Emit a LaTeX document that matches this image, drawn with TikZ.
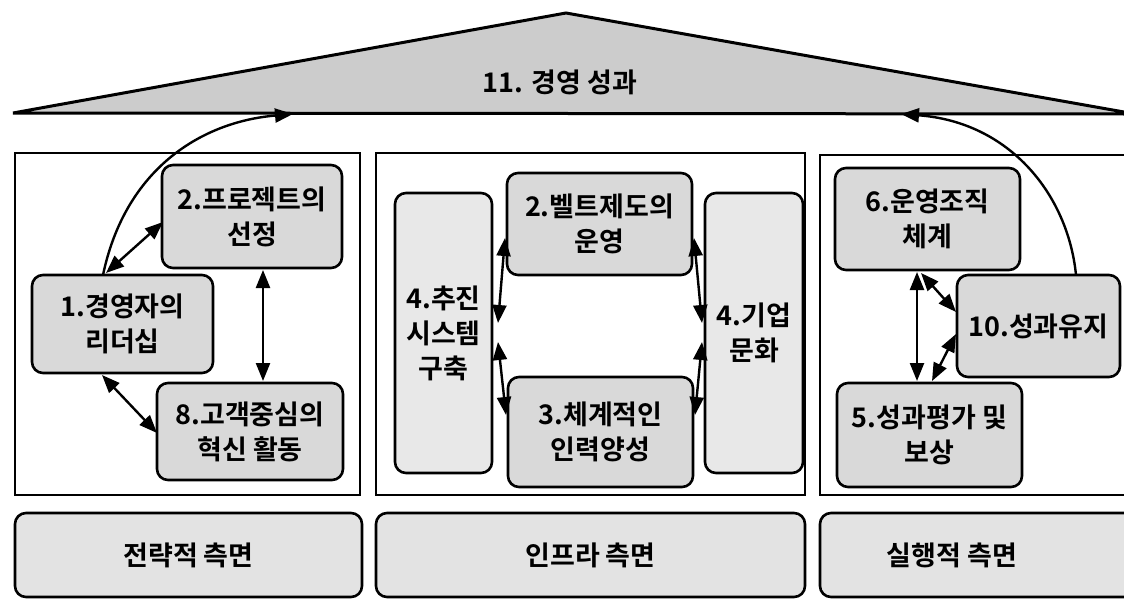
\documentclass[tikz,border=0pt]{standalone}
\usepackage{fontspec}
\setmainfont{Noto Sans CJK KR}[BoldFont={Noto Sans CJK KR Bold}]
\usetikzlibrary{arrows.meta}
\tikzset{
  every node/.style={font=\fontsize{27}{35}\selectfont\bfseries},
  box/.style={draw, line width=2.6pt, rounded corners=11pt, fill=gray!30, align=center, inner sep=0pt},
  tallbox/.style={box, fill=gray!18},
  panel/.style={draw, line width=1.8pt, fill=white, inner sep=0pt},
  basebox/.style={draw, line width=2.6pt, rounded corners=11pt, fill=gray!22, inner sep=0pt},
  tipend/.tip={Triangle[length=18pt,width=14pt]},
  link/.style={line width=2.4pt, tipend-tipend},
  curve/.style={line width=2.4pt, -tipend}
}
\begin{document}
\begin{tikzpicture}[x=1pt,y=-1pt]
\useasboundingbox (0,0) rectangle (1124,602);
\fill[white] (0,0) rectangle (1124,602);
% roof
\draw[line width=3pt, fill=gray!40, line join=miter] (13,113) -- (566,13) -- (1124,112) -- (1124,114) -- cycle;
\node (roof) at (560,82) {11. 경영 성과};
% panels
\node[panel, minimum width=345pt, minimum height=342pt] (pl) at (187.5,324) {};
\node[panel, minimum width=429pt, minimum height=342pt] (pm) at (590.5,324) {};
\coordinate (prtl) at (820,155);
\coordinate (prbl) at (820,495);
\draw[line width=1.8pt] (1126,155) -- (prtl) -- (prbl) -- (1126,495);
% left panel nodes
\node[box, minimum width=180pt, minimum height=103pt] (n2) at (252,216.5) {2.프로젝트의\\선정};
\node[box, minimum width=181pt, minimum height=98pt] (n1) at (122.5,324) {1.경영자의\\리더십};
\node[box, minimum width=186pt, minimum height=97pt] (n8) at (250,431.5) {8.고객중심의\\혁신 활동};
% middle panel nodes
\node[tallbox, minimum width=97pt, minimum height=280pt] (m4) at (443.5,333) {4.추진\\시스템\\구축};
\node[box, minimum width=185pt, minimum height=102pt] (m2) at (599.5,224) {2.벨트제도의\\운영};
\node[box, minimum width=185pt, minimum height=110pt] (m3) at (600.5,432) {3.체계적인\\인력양성};
\node[tallbox, minimum width=98pt, minimum height=280pt] (m5) at (754,333) {4.기업\\문화};
% right panel nodes
\node[box, minimum width=185pt, minimum height=102pt] (r6) at (927.5,219) {6.운영조직\\체계};
\node[box, minimum width=163pt, minimum height=102pt] (r10) at (1038.5,326) {10.성과유지};
\node[box, minimum width=185pt, minimum height=104pt] (r5) at (929.5,435) {5.성과평가 및\\보상};
% bottom boxes
\node[basebox, minimum width=347pt, minimum height=84pt] (b1) at (188.5,555) {전략적 측면};
\node[basebox, minimum width=429pt, minimum height=84pt] (b2) at (590.5,555) {인프라 측면};
\filldraw[line width=2.6pt, rounded corners=11pt, fill=gray!22] (1140,513) -- (820,513) -- (820,597) -- (1140,597);
\node (b3) at (952,555) {실행적 측면};
% roof arrow end points
\coordinate (rl) at (293,114);
\coordinate (rr) at (901,114);
% left panel connectors
\coordinate (a1t) at (103,275);
\draw[curve] (a1t) .. controls (125,170) and (200,122) .. (rl);
\coordinate (a1a) at (106,273);
\coordinate (a2a) at (163,222);
\draw[link] (a1a) -- (a2a);
\coordinate (a2b) at (263,270);
\coordinate (a8a) at (263,381);
\draw[link] (a2b) -- (a8a);
\coordinate (a1b) at (102,375);
\coordinate (a8b) at (157,433);
\draw[link] (a1b) -- (a8b);
% middle connectors
\coordinate (ml1) at (505,238); \coordinate (ml2) at (498,323);
\coordinate (ml3) at (498,342); \coordinate (ml4) at (506,415);
\draw[link] (ml1) -- (ml2);
\draw[link] (ml3) -- (ml4);
\coordinate (mr1) at (694,238); \coordinate (mr2) at (702,323);
\coordinate (mr3) at (702,342); \coordinate (mr4) at (695,415);
\draw[link] (mr1) -- (mr2);
\draw[link] (mr3) -- (mr4);
% right panel connectors
\coordinate (q6a) at (917,272); \coordinate (q5a) at (917,381);
\draw[link] (q6a) -- (q5a);
\coordinate (q6b) at (921,273); \coordinate (q10a) at (956,312);
\draw[link] (q6b) -- (q10a);
\coordinate (q10b) at (956,334); \coordinate (q5b) at (932,381);
\draw[link] (q10b) -- (q5b);
\coordinate (q10t) at (1076,275);
\draw[curve] (q10t) .. controls (1068,195) and (1010,122) .. (rr);
\end{tikzpicture}
\end{document}
